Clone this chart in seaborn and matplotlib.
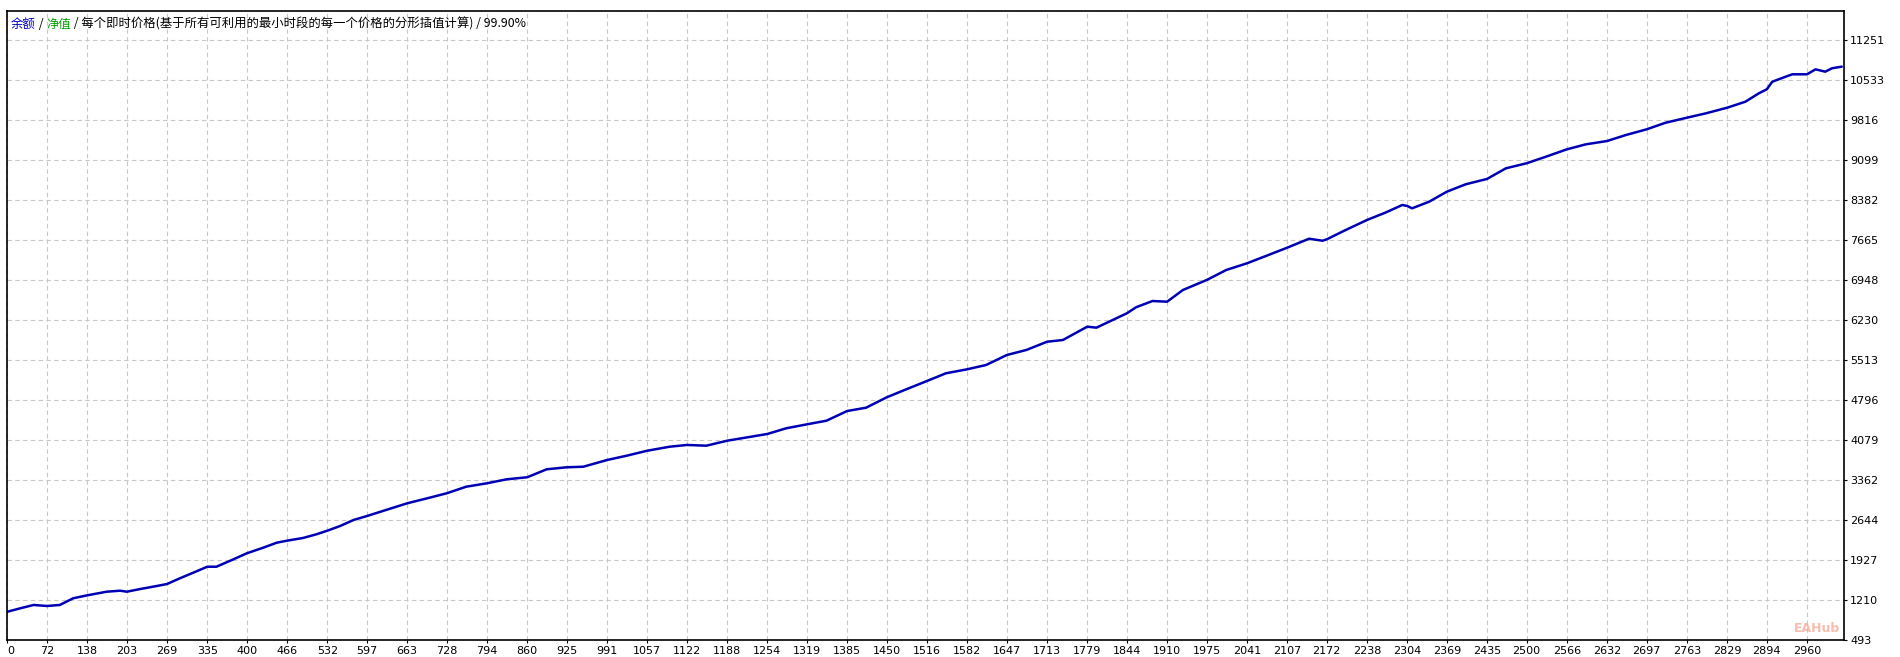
import numpy as np
import pandas as pd
import matplotlib
matplotlib.use("Agg")
import matplotlib.pyplot as plt
import seaborn as sns

# balance curve (trade number -> balance)
trade = [7, 28, 50, 72, 93, 115, 138, 170, 192, 203, 225, 252, 269, 290, 312,
         335, 350, 378, 400, 427, 449, 466, 492, 514, 532, 553, 575, 597, 663,
         696, 728, 760, 794, 826, 860, 892, 925, 952, 991, 1023, 1057, 1094,
         1122, 1154, 1188, 1254, 1285, 1319, 1351, 1385, 1416, 1450, 1482,
         1516, 1547, 1582, 1613, 1647, 1679, 1713, 1739, 1779, 1794, 1844,
         1859, 1886, 1910, 1936, 1975, 2007, 2041, 2072, 2107, 2143, 2165,
         2172, 2203, 2238, 2268, 2296, 2304, 2312, 2340, 2369, 2400, 2435,
         2466, 2500, 2532, 2566, 2597, 2632, 2663, 2697, 2728, 2763, 2794,
         2829, 2859, 2881, 2894, 2903, 2925, 2936, 2960, 2974, 2990, 3001, 3017]
balance = [1000, 1061, 1121, 1103, 1121, 1241, 1294, 1359, 1377, 1359, 1407,
           1461, 1497, 1599, 1700, 1807, 1807, 1940, 2048, 2149, 2238, 2274,
           2322, 2388, 2453, 2537, 2645, 2716, 2944, 3034, 3124, 3242, 3303,
           3374, 3411, 3554, 3590, 3600, 3720, 3797, 3887, 3959, 3990, 3977,
           4066, 4187, 4289, 4360, 4425, 4599, 4658, 4845, 4988, 5137, 5275,
           5347, 5424, 5603, 5693, 5841, 5872, 6111, 6093, 6351, 6459, 6571,
           6559, 6769, 6948, 7127, 7247, 7378, 7527, 7688, 7652, 7677, 7844,
           8024, 8155, 8293, 8275, 8233, 8352, 8531, 8664, 8760, 8951, 9041,
           9160, 9291, 9380, 9440, 9548, 9650, 9768, 9858, 9936, 10037, 10145,
           10295, 10367, 10503, 10593, 10636, 10636, 10725, 10683, 10744, 10773]

x_labels = [0, 72, 138, 203, 269, 335, 400, 466, 532, 597, 663, 728, 794, 860,
            925, 991, 1057, 1122, 1188, 1254, 1319, 1385, 1450, 1516, 1582,
            1647, 1713, 1779, 1844, 1910, 1975, 2041, 2107, 2172, 2238, 2304,
            2369, 2435, 2500, 2566, 2632, 2697, 2763, 2829, 2894, 2960]
y_labels = [493, 1210, 1927, 2644, 3362, 4079, 4796, 5513, 6230, 6948, 7665,
            8382, 9099, 9816, 10533, 11251]

title_parts = [("余额", "#0000c8"), (" / ", "#000000"), ("净值", "#00a000"),
               (" / 每个即时价格(基于所有可利用的最小时段的每一个价格的分形插值计算) / 99.90%", "#000000")]

df = pd.DataFrame({"trade": trade, "balance": balance})

sns.set_theme(style="white")
plt.rcParams["font.family"] = ["DejaVu Sans"]

fig = plt.figure(figsize=(19, 6.57), dpi=100)
ax = fig.add_axes([7 / 1900, 17 / 657, 1837 / 1900, 629 / 657])

sns.lineplot(data=df, x="trade", y="balance", ax=ax, color="#0000b4",
             linewidth=1.8, estimator=None)

step = (x_labels[-1] - x_labels[1]) / (len(x_labels) - 2)
x_pos = np.array(x_labels, dtype=float)
x_pos[0] = x_labels[1] - step
ax.set_xlim(x_pos[0], x_labels[-1] + step * 37 / 40)
ax.set_xticks(x_pos)
ax.set_xticklabels([str(v) for v in x_labels])
ax.get_xticklabels()[0].set_horizontalalignment("left")

ystep = (y_labels[-1] - y_labels[0]) / (len(y_labels) - 1)
ax.set_ylim(y_labels[0], y_labels[-1] + ystep * 29 / 40)
ax.set_yticks(y_labels)
ax.set_yticklabels([str(v) for v in y_labels])
ax.yaxis.tick_right()

ax.set_xlabel("")
ax.set_ylabel("")
ax.grid(True, color="#c8c8c8", linestyle=(0, (4, 3)), linewidth=0.8)
ax.tick_params(axis="x", direction="out", length=2.5, width=0.8, pad=1.5,
               labelsize=8, colors="black", bottom=True)
ax.tick_params(axis="y", direction="out", length=2.5, width=0.8, pad=2,
               labelsize=8, colors="black", right=True, left=False)
for s in ax.spines.values():
    s.set_color("black")
    s.set_linewidth(1.2)

# multi-coloured header inside the plot
prev = None
for txt, col in title_parts:
    kw = dict(fontsize=8.9, color=col, va="bottom", ha="left",
              family=["Noto Sans CJK SC", "DejaVu Sans"])
    if prev is None:
        prev = ax.text(4 / 1837, 1 - 20 / 629, txt, transform=ax.transAxes, **kw)
    else:
        prev = ax.annotate(txt, xycoords=prev, xy=(1, 0), **kw)

ax.text(1 - 4 / 1837, 12 / 629, "EAHub", transform=ax.transAxes,
        color="#f4a08a", alpha=0.7, fontsize=9, fontweight="bold",
        va="center", ha="right")

fig.savefig("out.png", dpi=100)
